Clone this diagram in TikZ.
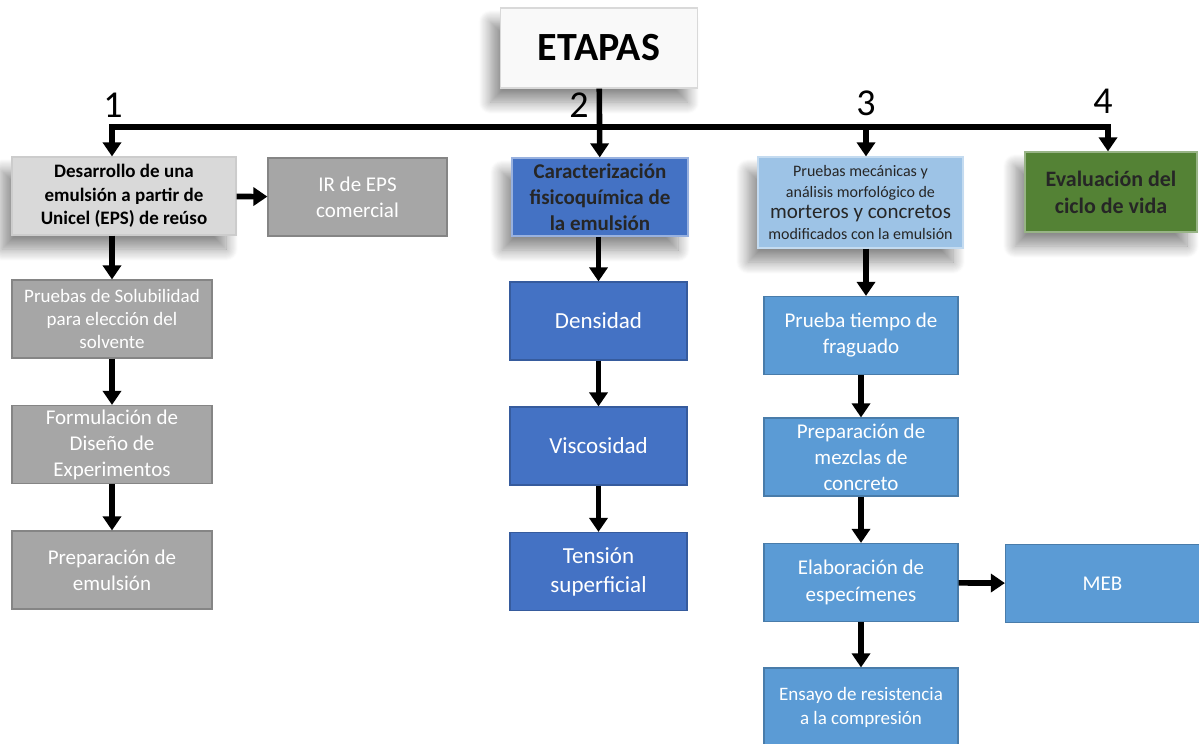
\documentclass[tikz,border=0pt]{standalone}
\usepackage{fontspec}
\setmainfont{Carlito}
\usetikzlibrary{arrows.meta,shadows.blur}
\definecolor{grisclaro}{HTML}{D9D9D9}
\definecolor{gris}{HTML}{A6A6A6}
\definecolor{azul}{HTML}{4472C4}
\definecolor{celeste}{HTML}{5B9BD5}
\definecolor{celesteclaro}{HTML}{9DC3E6}
\definecolor{verde}{HTML}{548235}
\tikzset{>=stealth}

\begin{document}
\begin{tikzpicture}[x=0.5pt,y=-0.5pt,
    punta/.tip={Triangle[width=9pt,length=7pt]},
    flecha/.style={line width=2.8pt,line join=miter,-punta},
    caja/.style={rectangle,inner sep=0pt,align=center,minimum height=39pt,line width=.6pt},
    etapa/.style={caja,blur shadow={shadow xshift=-5pt,shadow yshift=-7pt,
                  shadow blur radius=6pt,shadow blur steps=12,shadow opacity=45}},
    paso/.style={caja,text=white,draw=#1!80!black,fill=#1},
    num/.style={font=\fontsize{19}{22}\selectfont}]
  \useasboundingbox (0,0) rectangle (1199,744);

  % titulo
  \node[etapa,fill=gray!5,draw=gray!30,minimum width=98.5pt,minimum height=40pt,
        font=\bfseries\fontsize{20}{24}\selectfont] (etapas) at (599,48) {ETAPAS};

  % numeros de etapa
  \node[num] (n1) at (113,105) {1};
  \node[num] (n2) at (579,105) {2};
  \node[num] (n3) at (866,103) {3};
  \node[num] (n4) at (1103,101) {4};

  % etapas principales
  \node[etapa,fill=grisclaro,draw=gray!40,minimum width=112pt,
        font=\bfseries\fontsize{9.5}{11.75}\selectfont] (b1) at (124,196)
        {Desarrollo de una\\emulsión a partir de\\Unicel (EPS) de reúso};
  \node[etapa,fill=azul,draw=azul!55!white,minimum width=88pt,text=black!85,
        font=\bfseries\fontsize{10.5}{13}\selectfont] (b2) at (600,197)
        {Caracterización\\fisicoquímica de\\la emulsión};
  \node[etapa,fill=celesteclaro,draw=celesteclaro!60!white,minimum width=102.5pt,
        minimum height=45.5pt,text=black!85,font=\fontsize{8}{10.5}\selectfont] (b3) at (860.5,202.5)
        {Pruebas mecánicas y\\análisis morfológico de\\{\fontsize{10.5}{10.5}\selectfont morteros y concretos}\\modificados con la emulsión};
  \node[etapa,fill=verde,draw=verde!60!white,minimum width=86pt,minimum height=40pt,
        text=black!85,font=\bfseries\fontsize{11}{13.5}\selectfont] (b4) at (1111,192)
        {Evaluación del\\ciclo de vida};

  % etapa 1
  \node[paso=gris,minimum width=89.5pt,font=\fontsize{10.5}{13}\selectfont] (ir) at (357.5,197)
        {IR de EPS\\comercial};
  \node[paso=gris,minimum width=100pt,font=\fontsize{9.5}{11.5}\selectfont] (s1) at (112,319)
        {Pruebas de Solubilidad\\para elección del\\solvente};
  \node[paso=gris,minimum width=100pt,font=\fontsize{10.5}{13}\selectfont] (s2) at (112,444.5)
        {Formulación de\\Diseño de\\Experimentos};
  \node[paso=gris,minimum width=100pt,font=\fontsize{10.5}{13}\selectfont] (s3) at (112,570)
        {Preparación de\\emulsión};

  % etapa 2
  \node[paso=azul,minimum width=88.5pt,font=\fontsize{11.5}{14.5}\selectfont] (d1) at (598.5,321) {Densidad};
  \node[paso=azul,minimum width=88.5pt,font=\fontsize{11.5}{14.5}\selectfont] (d2) at (598.5,446) {Viscosidad};
  \node[paso=azul,minimum width=88.5pt,font=\fontsize{11.5}{14.5}\selectfont] (d3) at (598.5,571.5)
        {Tensión\\superficial};

  % etapa 3
  \node[paso=celeste,minimum width=97pt,font=\fontsize{10.5}{13}\selectfont] (p1) at (861,335.5)
        {Prueba tiempo de\\fraguado};
  \node[paso=celeste,minimum width=97pt,font=\fontsize{10.5}{13}\selectfont] (p2) at (861,457)
        {Preparación de\\mezclas de\\concreto};
  \node[paso=celeste,minimum width=97pt,font=\fontsize{10.5}{13.5}\selectfont] (p3) at (861,582.5)
        {Elaboración de\\especímenes};
  \node[paso=celeste,minimum width=97pt,font=\fontsize{9.5}{12}\selectfont] (p4) at (861,707)
        {Ensayo de resistencia\\a la compresión};
  \node[paso=celeste,minimum width=97pt,font=\fontsize{10.5}{13}\selectfont] (meb) at (1102.5,583.5) {MEB};

  % linea general
  \coordinate (h1) at (112,127);
  \coordinate (h3) at (866,127);
  \coordinate (h4) at (1108,127);
  \draw[flecha,punta-punta] (b1.north -| h1) -- (h1) -- (h4) -- (b4.north -| h4);
  \draw[flecha] (etapas) -- (b2);
  \draw[flecha] (h3) -- (b3.north -| h3);

  % flechas internas
  \draw[flecha] (b1) -- (ir);
  \draw[flecha] (b1.south -| s1) -- (s1);
  \draw[flecha] (s1) -- (s2);
  \draw[flecha] (s2) -- (s3);
  \draw[flecha] (b2.south -| d1) -- (d1);
  \draw[flecha] (d1) -- (d2);
  \draw[flecha] (d2) -- (d3);
  \draw[flecha] (b3.south -| h3) -- (p1.north -| h3);
  \draw[flecha] (p1) -- (p2);
  \draw[flecha] (p2) -- (p3);
  \draw[flecha] (p3) -- (p4);
  \draw[flecha] (p3) -- (meb);
\end{tikzpicture}
\end{document}
